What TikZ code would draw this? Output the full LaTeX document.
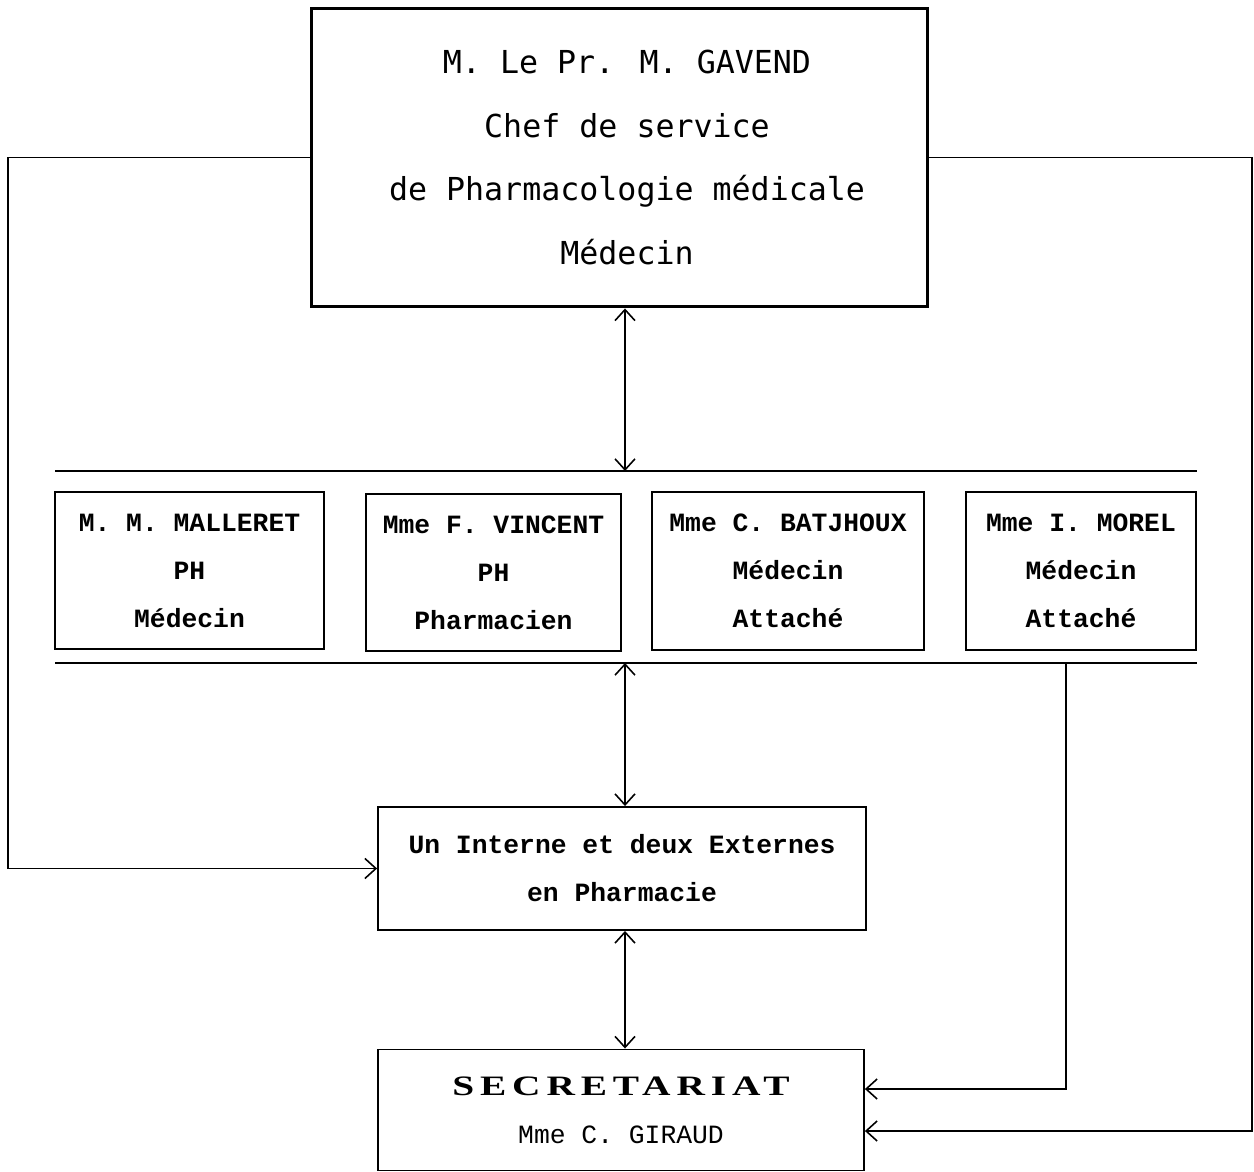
\documentclass[tikz,border=0pt]{standalone}
\usepackage{fontspec}
\usepackage{graphicx}
\setmonofont{Liberation Mono}
\newfontfamily\topfont{DejaVu Sans Mono}
\newfontfamily\secfont[LetterSpace=15]{Liberation Serif}
\usetikzlibrary{arrows.meta}

\tikzset{
  box/.style={draw,line width=1.1pt,align=center,inner sep=0pt},
  staff/.style={box,font=\ttfamily\bfseries\fontsize{15}{27.3}\selectfont},
  link/.style={line width=0.9pt,>={Straight Barb[length=2.2mm,width=4mm]}},
  bar/.style={line width=1.2pt}
}

\begin{document}
\begin{tikzpicture}[x=0.02cm,y=-0.02cm]
\useasboundingbox (0,0) rectangle (1254,1172);
% chef de service
\node [box,line width=1.7pt,minimum width=12.34cm,minimum height=5.98cm,
       font=\topfont\fontsize{18}{36.4}\selectfont] (gavend) at (619.5,157.5)
  {\hspace*{0.3cm}M. Le Pr. M. GAVEND\\\hspace*{0.3cm}Chef de service\\
   \hspace*{0.3cm}de Pharmacologie médicale\\\hspace*{0.3cm}Médecin};
% equipe medicale
\coordinate (barAL) at (55,471);
\coordinate (barAR) at (1197,471);
\coordinate (barBL) at (55,663);
\coordinate (barBR) at (1197,663);
\coordinate (barA) at (625,471);
\coordinate (barB) at (625,663);
\coordinate (barM) at (1066,663);
\draw [bar] (barAL) -- (barAR);
\draw [bar] (barBL) -- (barBR);
\node [staff,minimum width=5.38cm,minimum height=3.14cm] (malleret) at (189.5,570.5)
  {M. M. MALLERET\\PH\\Médecin};
\node [staff,minimum width=5.1cm,minimum height=3.14cm] (vincent) at (493.5,572.5)
  {Mme F. VINCENT\\PH\\Pharmacien};
\node [staff,minimum width=5.44cm,minimum height=3.16cm] (batjhoux) at (788,571)
  {Mme C. BATJHOUX\\Médecin\\Attaché};
\node [staff,minimum width=4.6cm,minimum height=3.16cm] (morel) at (1081,571)
  {Mme I. MOREL\\Médecin\\Attaché};
% internes et externes
\node [staff,minimum width=9.76cm,minimum height=2.46cm] (interne) at (622,868.5)
  {Un Interne et deux Externes\\en Pharmacie};
% secretariat
\node [box,minimum width=9.72cm,minimum height=2.42cm,
       font=\fontsize{15}{27.3}\selectfont] (secr) at (621,1110)
  {\scalebox{1.4}[1]{\secfont\bfseries\fontsize{16}{27.3}\selectfont SECRETARIAT}\\
   \ttfamily Mme C. GIRAUD};
% liaisons
\coordinate (leftc) at (8,500);
\coordinate (rightc) at (1252,500);
\draw [link,<->] (barA |- gavend.south) -- (barA);
\draw [link,<->] (barB) -- (barB |- interne.north);
\draw [link,<->] (barB |- interne.south) -- (barB |- secr.north);
\draw [link,->] (gavend.west) -| (leftc) |- (interne.west);
\draw [link,->] (gavend.east) -| (rightc) |- ([yshift=-0.42cm]secr.east);
\draw [link,->] (barM) |- ([yshift=0.42cm]secr.east);
\end{tikzpicture}
\end{document}
